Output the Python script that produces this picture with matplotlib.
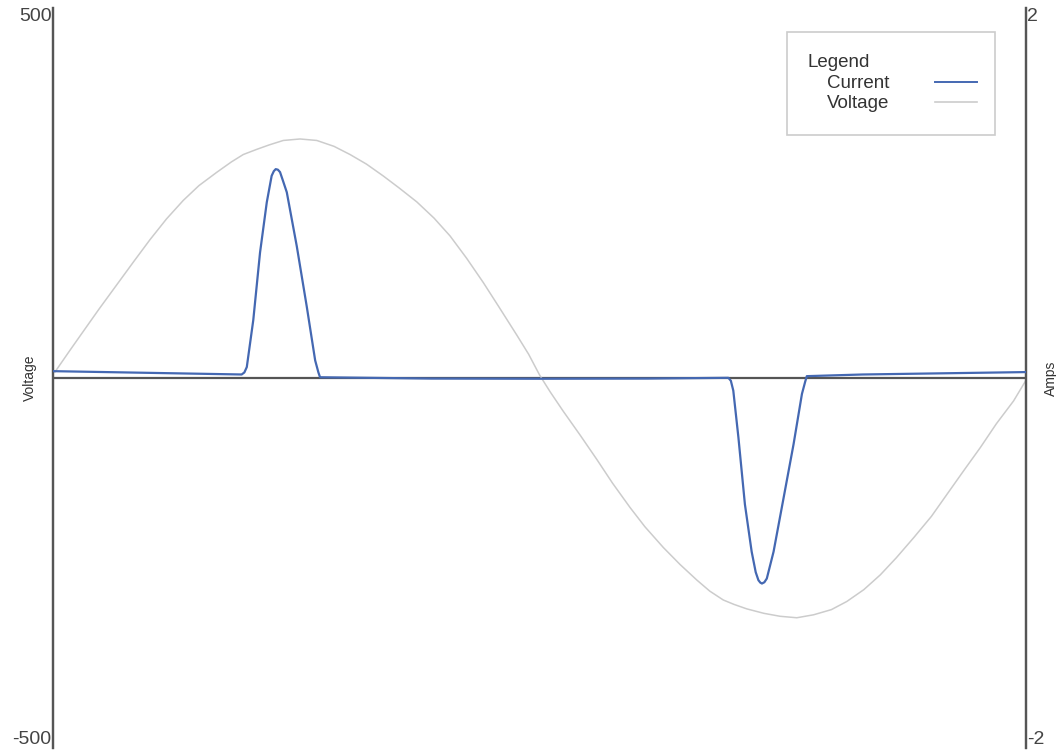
import matplotlib.pyplot as plt
from matplotlib.lines import Line2D
from matplotlib.patches import Rectangle

plt.rcParams['font.family'] = ['Liberation Sans', 'DejaVu Sans']
plt.rcParams['axes.unicode_minus'] = False

# Line voltage over one cycle (phase angle in degrees, volts)
voltage_deg = [0.7, 6.0, 11.2, 17.0, 23.6, 30.0, 35.9, 42.0, 48.2, 54.0,
               60.6, 66.0, 70.4, 75.4, 80.0, 85.2, 91.4, 97.6, 104.0, 109.9,
               116.0, 122.2, 128.0, 134.6, 141.0, 146.9, 153.0, 159.2, 165.0,
               171.6, 176.0, 179.6,
               180.2, 184.0, 188.8, 195.0, 201.2, 207.0, 213.5, 219.0, 225.8,
               232.0, 238.2, 243.0, 248.0, 252.0, 256.7, 263.0, 269.0, 275.2,
               281.4, 288.0, 293.7, 300.0, 306.1, 312.0, 318.4, 325.0, 330.8,
               337.0, 343.1, 349.0, 355.4, 360.0]
voltage_v = [8, 36, 63, 93, 126, 158, 187, 215, 240, 260,
             278, 292, 302, 309, 315, 321, 323, 321, 313, 302,
             289, 273, 257, 238, 216, 192, 162, 129, 96,
             58, 32, 7,
             3, -19, -45, -77, -110, -142, -175, -201, -229,
             -252, -273, -288, -300, -306, -312, -318, -322, -324,
             -320, -313, -302, -286, -266, -243, -216, -187, -157,
             -125, -94, -62, -31, -3]

# Current drawn by the load (phase angle in degrees, amps)
current_deg = [0.0, 69.8, 70.8, 71.7, 74.1, 76.6, 79.1, 80.9, 81.7, 82.4,
               83.2, 84.0, 85.0, 86.5, 90.2, 93.9, 97.0, 98.2, 98.8,
               140.0, 180.0, 220.0, 249.9, 250.8,
               251.7, 253.6, 256.0, 258.5, 260.0, 261.0, 261.7, 262.3, 263.2,
               264.1, 266.6, 270.3, 274.0, 277.1, 278.3, 278.9, 299.6, 360.0]
current_a = [0.037, 0.019, 0.030, 0.059, 0.313, 0.678, 0.950, 1.093, 1.118, 1.129,
             1.126, 1.113, 1.070, 1.004, 0.712, 0.385, 0.095, 0.030, 0.004,
             -0.003, -0.004, -0.003, 0.001, -0.015,
             -0.068, -0.322, -0.683, -0.939, -1.050, -1.093, -1.106, -1.111, -1.104,
             -1.084, -0.939, -0.649, -0.358, -0.086, -0.020, 0.010, 0.019, 0.032]

voltage_color = '#cccccc'
current_color = '#4468b2'
axis_color = '#555555'

fig = plt.figure(figsize=(10.56, 7.51), dpi=100)
ax = fig.add_axes([53 / 1056, 3 / 751, 973 / 1056, 740 / 751])
ax2 = ax.twinx()

ax.plot(voltage_deg, voltage_v, color=voltage_color, lw=1.1, zorder=2)
ax2.plot(current_deg, current_a, color=current_color, lw=1.6, zorder=3)
ax.axhline(0, color=axis_color, lw=1.6, zorder=1)

ax.set_xlim(0, 360)
ax.set_ylim(-500, 500)
ax2.set_ylim(-2, 2)
ax.set_xticks([])

for a in (ax, ax2):
    for side in ('top', 'bottom'):
        a.spines[side].set_visible(False)
    for side in ('left', 'right'):
        a.spines[side].set_color(axis_color)
        a.spines[side].set_linewidth(1.6)
    a.tick_params(axis='y', length=0, labelsize=14, colors='#444444', pad=1)

ax.set_yticks([-500, 500])
ax2.set_yticks([-2, 2])
for a in (ax, ax2):
    lo, hi = a.get_yticklabels()
    lo.set_va('bottom')
    hi.set_va('top')

ax.set_ylabel('Voltage', fontsize=10, color='#333333')
ax.yaxis.set_label_coords(-0.016, 0.5)
ax2.set_ylabel('Amps', fontsize=10, color='#333333')
ax2.yaxis.set_label_coords(1.018, 0.5)

# Legend box, drawn by hand to match the layout (labels left, samples right)
ax2.add_patch(Rectangle((0.7544, 0.8284), 0.2136, 0.1392, transform=ax2.transAxes,
                        facecolor='white', edgecolor='#cccccc', lw=1.2, zorder=5))
ax2.text(0.775, 0.9199, 'Legend', transform=ax2.transAxes, fontsize=13.5,
         color='#333333', va='baseline', zorder=6)
ax2.text(0.795, 0.8915, 'Current', transform=ax2.transAxes, fontsize=13.5,
         color='#333333', va='baseline', zorder=6)
ax2.text(0.795, 0.8645, 'Voltage', transform=ax2.transAxes, fontsize=13.5,
         color='#333333', va='baseline', zorder=6)
ax2.add_line(Line2D([0.9065, 0.9494], [0.900, 0.900], transform=ax2.transAxes,
                    color=current_color, lw=1.4, zorder=6))
ax2.add_line(Line2D([0.9065, 0.9494], [0.8726, 0.8726], transform=ax2.transAxes,
                    color=voltage_color, lw=1.2, zorder=6))

fig.savefig('out.png', dpi=100)
